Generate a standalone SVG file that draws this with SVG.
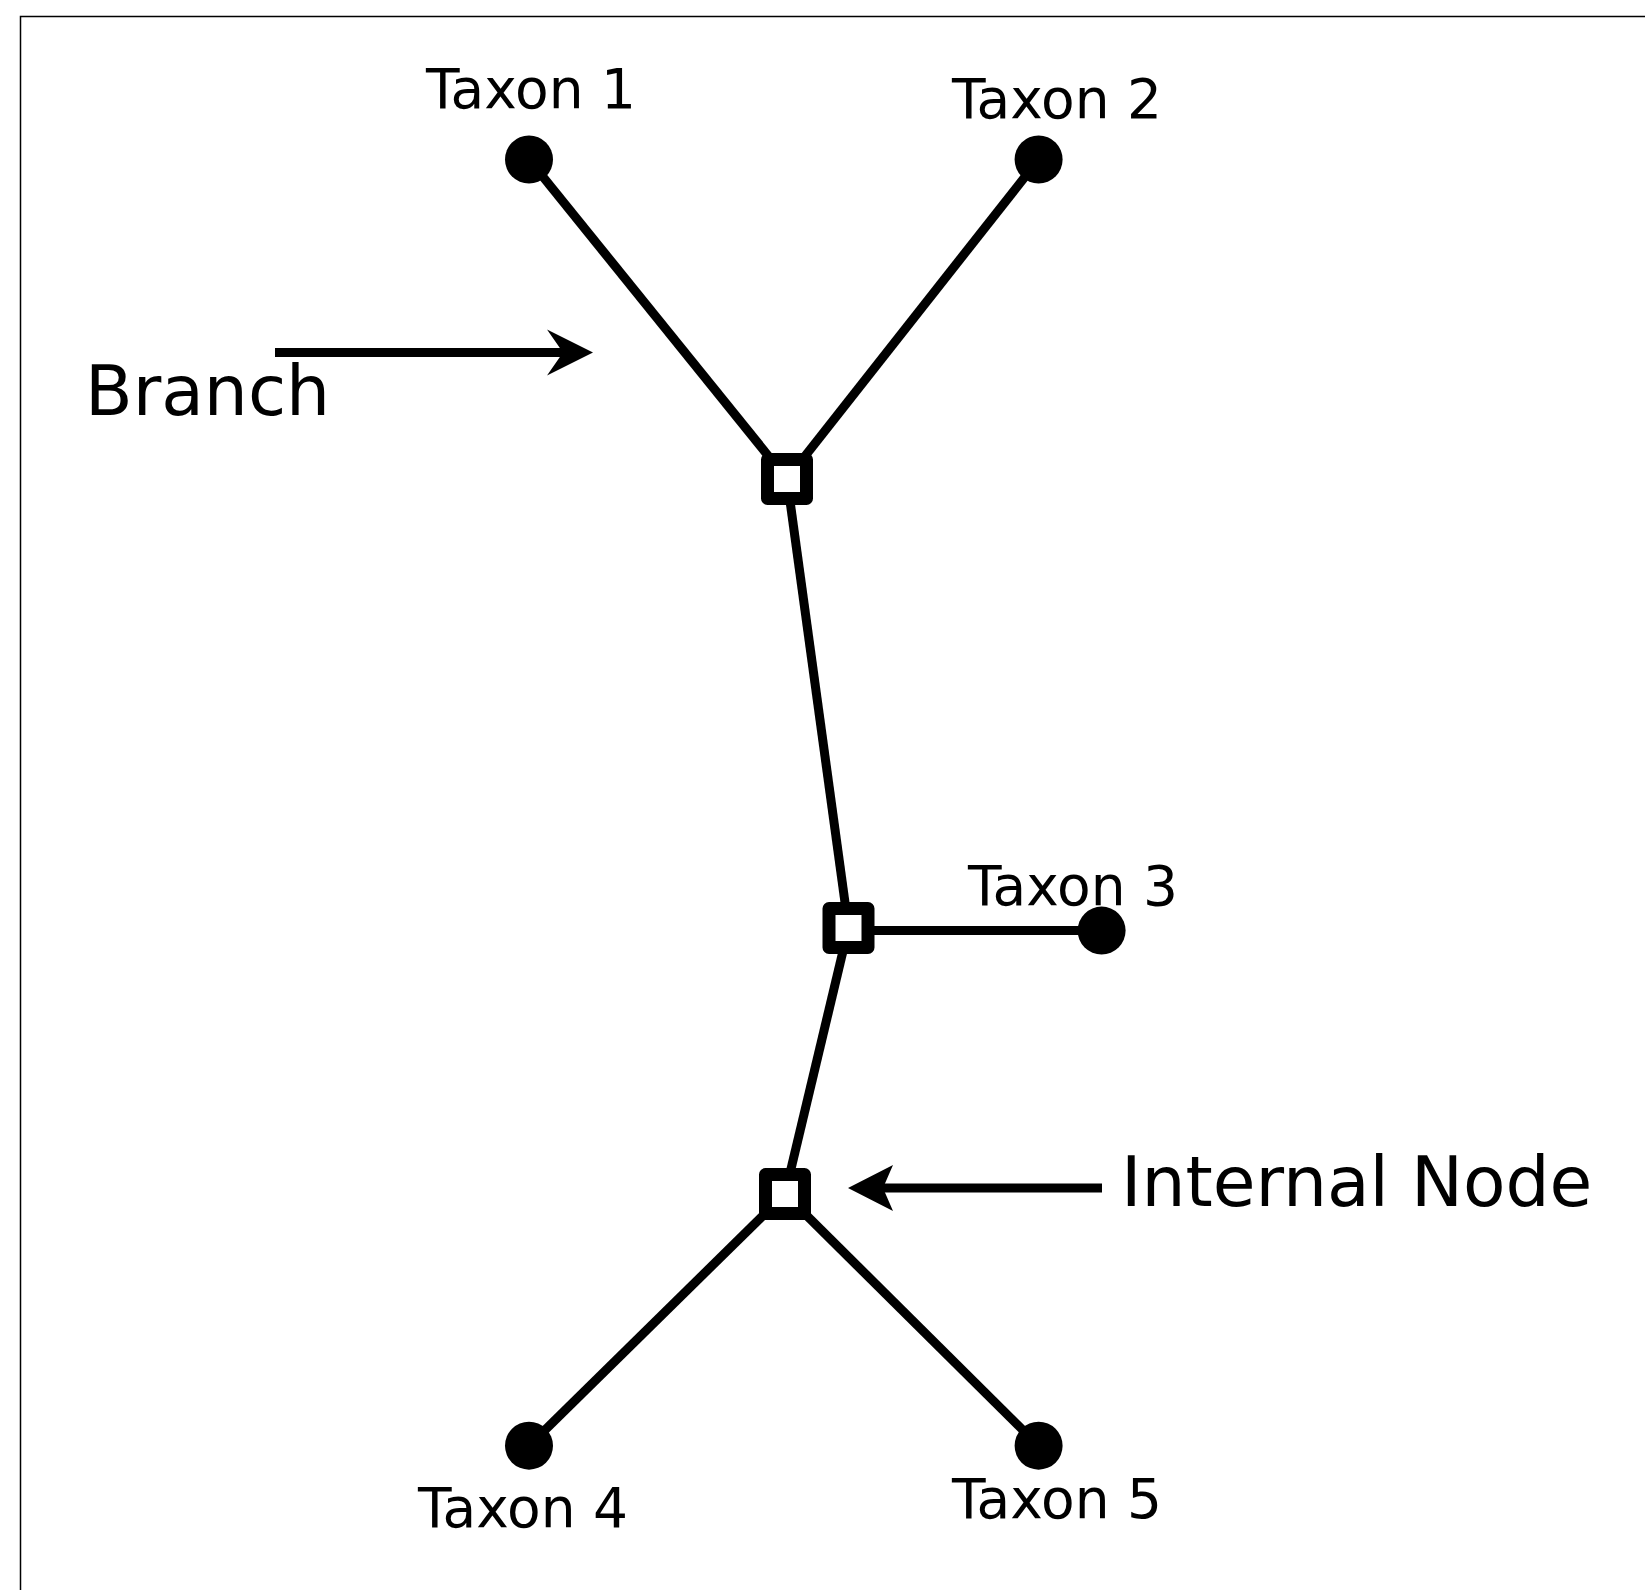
<svg xmlns="http://www.w3.org/2000/svg" width="1645" height="1590" viewBox="0 0 1645 1590">
<style>
.edge{stroke:#000;stroke-width:9;fill:none}
.leaf{fill:#000}
.inode{fill:#fff;stroke:#000;stroke-width:13;stroke-linejoin:round}
.head{fill:#000}
.lab{font-family:"DejaVu Sans",sans-serif;fill:#000}
.tax{font-size:55px;text-anchor:middle}
.big{font-size:69.5px}
</style>
<rect x="0" y="0" width="1645" height="1590" fill="#fff"/>
<rect x="20.5" y="16.5" width="1700" height="1700" fill="none" stroke="#000" stroke-width="1.5"/>
<g id="connectors">
<line class="edge" x1="529" y1="159.5" x2="787" y2="479"/>
<line class="edge" x1="1038.6" y1="159.5" x2="787" y2="479"/>
<line class="edge" x1="787" y1="479" x2="848.5" y2="928"/>
<line class="edge" x1="848.5" y1="930.5" x2="1101.6" y2="930.5"/>
<line class="edge" x1="848.5" y1="928" x2="785" y2="1194"/>
<line class="edge" x1="785" y1="1194" x2="529" y2="1445.7"/>
<line class="edge" x1="785" y1="1194" x2="1038.6" y2="1445.7"/>
<line class="edge" x1="275" y1="352.5" x2="570" y2="352.5"/>
<path class="head" d="M593,352.5 L547,329.5 L563,352.5 L547,375.5 Z"/>
<line class="edge" x1="1102" y1="1188" x2="870" y2="1188"/>
<path class="head" d="M848,1188 L893,1165 L883,1188 L893,1211 Z"/>
</g>
<g id="taxon1"><circle class="leaf" cx="529" cy="159.5" r="24"/><text class="lab tax" x="531" y="108">Taxon 1</text></g>
<g id="taxon2"><circle class="leaf" cx="1038.6" cy="159.5" r="24"/><text class="lab tax" x="1057" y="118">Taxon 2</text></g>
<g id="taxon3"><circle class="leaf" cx="1101.6" cy="930.6" r="24"/><text class="lab tax" x="1073" y="905">Taxon 3</text></g>
<g id="taxon4"><circle class="leaf" cx="529" cy="1445.7" r="24"/><text class="lab tax" x="523" y="1527">Taxon 4</text></g>
<g id="taxon5"><circle class="leaf" cx="1038.6" cy="1445.7" r="24"/><text class="lab tax" x="1057" y="1518">Taxon 5</text></g>
<g id="node1"><rect class="inode" x="767.5" y="459.5" width="39" height="39"/></g>
<g id="node2"><rect class="inode" x="829" y="908.5" width="39" height="39"/></g>
<g id="node3"><rect class="inode" x="765.5" y="1174.5" width="39" height="39"/></g>
<g id="label-branch"><text class="lab big" x="85" y="415">Branch</text></g>
<g id="label-internal"><text class="lab big" x="1121" y="1206">Internal Node</text></g>
</svg>
